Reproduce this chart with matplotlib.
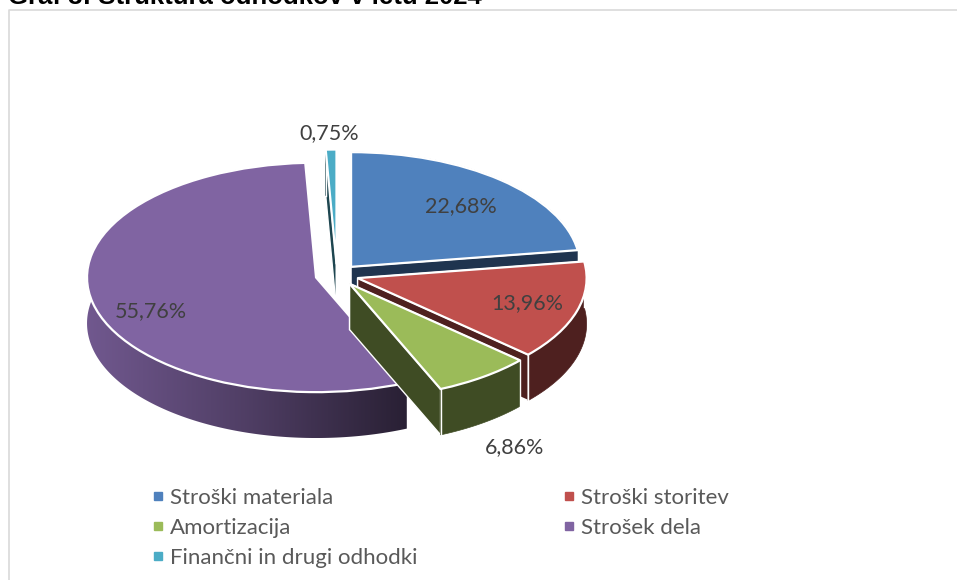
import numpy as np
import matplotlib
matplotlib.use('Agg')
import matplotlib.pyplot as plt
from matplotlib.colors import LinearSegmentedColormap, to_rgb
from matplotlib.lines import Line2D
from matplotlib.patches import Polygon

plt.rcParams['font.family'] = ['Lato', 'DejaVu Sans']

# Podatki
labels = ['Stroški materiala', 'Stroški storitev', 'Amortizacija', 'Strošek dela', 'Finančni in drugi odhodki']
values = [22.68, 13.96, 6.86, 55.76, 0.75]
title = 'Graf 3: Struktura odhodkov v letu 2024'

# Videz
colors = ['#4F81BD', '#C0504D', '#9BBB59', '#8064A2', '#4BACC6']
side_colors = ['#1F344F', '#4E201F', '#3F4C24', '#3A2D4F', '#1E4650']
explode = 0.094
depth = 0.40
draw_order = [4, 0, 3, 1, 2]
W, H = 957, 580
cx, cy, rx, ry = 337, 275, 229, 114.7
label_px = [(461, 206), (527, 303), (515, 447), (151, 311), (329, 133)]


def px(x, y):
    # piksli slike -> koordinate torte
    return (x - cx) / rx, (cy - y) / ry


fig = plt.figure(figsize=(W / 100, H / 100), dpi=100)
ax = fig.add_axes([0, 0, 1, 1])

wedges, _ = ax.pie(values, startangle=90, counterclock=False, explode=[explode] * len(values),
                   colors=colors, wedgeprops={'edgecolor': 'white', 'linewidth': 1.6})

# Stranske ploskve
share = np.array(values) / np.sum(values)
ends = np.cumsum(share) * 2 * np.pi
starts = ends - share * 2 * np.pi
for rank, i in enumerate(draw_order):
    mid = (starts[i] + ends[i]) / 2
    ax0, ay0 = explode * np.sin(mid), explode * np.cos(mid)
    t = np.linspace(starts[i], ends[i], max(3, int((ends[i] - starts[i]) * 60)))
    xs, ys = ax0 + np.sin(t), ay0 + np.cos(t)
    z = 2 * rank
    for a in (starts[i], ends[i]):
        ex, ey = ax0 + np.sin(a), ay0 + np.cos(a)
        ax.fill([ax0, ex, ex, ax0], [ay0, ey, ey - depth, ay0 - depth], facecolor=side_colors[i],
                edgecolor='white', linewidth=1.0, zorder=z)
    wall = np.column_stack([np.r_[xs, xs[::-1]], np.r_[ys, ys[::-1] - depth]])
    if i == 3:
        # vijolicna stena gre od svetlejse na levi do temne na desni
        base = np.array(to_rgb(colors[i]))
        cmap = LinearSegmentedColormap.from_list('stena', [base * 0.88, base * 0.62, base * 0.32])
        grad = np.linspace(0, 1, 256)[None, :]
        im = ax.imshow(grad, cmap=cmap, aspect='auto', zorder=z + 0.5,
                       extent=(xs.min(), xs.max(), (ys - depth).min(), ys.max()))
        im.set_clip_path(Polygon(wall, closed=True, transform=ax.transData))
    else:
        ax.fill(wall[:, 0], wall[:, 1], facecolor=side_colors[i], edgecolor=side_colors[i],
                linewidth=0.5, zorder=z + 0.5)
    ax.plot([xs[0], xs[0]], [ys[0], ys[0] - depth], color='white', lw=1.0, zorder=z + 0.6)
    ax.plot([xs[-1], xs[-1]], [ys[-1], ys[-1] - depth], color='white', lw=1.0, zorder=z + 0.6)
    wedges[i].set_zorder(z + 1)

ax.set_aspect('auto')
ax.set_xlim(px(0, 0)[0], px(W, 0)[0])
ax.set_ylim(px(0, H)[1], px(0, 0)[1])
ax.axis('off')

# Oznake
for v, (lx, ly) in zip(values, label_px):
    x, y = px(lx, ly)
    ax.text(x, y, f'{v:.2f}%'.replace('.', ','), ha='center', va='center', fontsize=15.5,
            color='#404040', zorder=30)

# Legenda: po vrsticah, zato drugacen vrstni red
order = [0, 2, 4, 1, 3]
handles = [Line2D([], [], linestyle='none', marker='s', markersize=5.5, color=colors[i]) for i in order]
leg = fig.legend(handles, [labels[i] for i in order], ncol=2, frameon=False, fontsize=16,
                 loc='upper left', bbox_to_anchor=(150 / W, 1 - 488 / H), labelcolor='#595959',
                 handlelength=0.7, handletextpad=0.2, columnspacing=6.45, labelspacing=0.44,
                 borderaxespad=0, borderpad=0)

# Okvir in odrezan naslov
fig.add_artist(Line2D([9 / W, 9 / W, 1], [0, 1 - 9.5 / H, 1 - 9.5 / H], color='#D9D9D9', lw=1.2))
fig.text(8 / W, 1 - 4 / H, title, fontsize=18.5, fontweight='bold', family='Liberation Sans',
         color='black', va='baseline', ha='left')

fig.savefig('out.png', dpi=100, facecolor='white')
